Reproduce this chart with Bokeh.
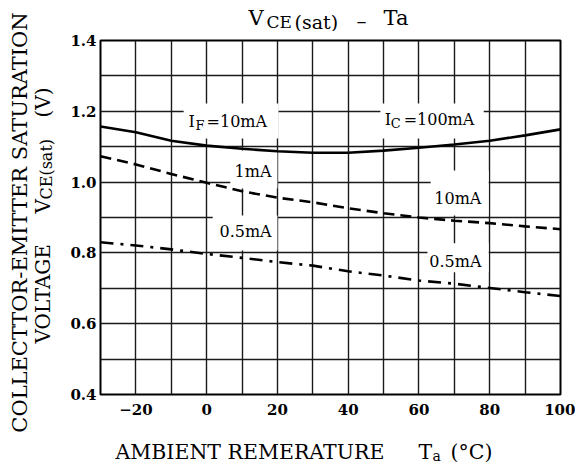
import math
from bokeh.plotting import figure
from bokeh.layouts import row, column
from bokeh.models import Label, BoxAnnotation, FixedTicker, Range1d
from bokeh.embed import file_html
from bokeh.resources import INLINE

# ---------------- data ----------------
temps = [-30, -20, -10, 0, 10, 20, 30, 40, 50, 60, 70, 80, 90, 100]
vce_ic100_if10 = [1.157, 1.141, 1.117, 1.103, 1.094, 1.087, 1.083, 1.083, 1.089, 1.097, 1.106, 1.117, 1.132, 1.149]
vce_ic10_if1 = [1.073, 1.050, 1.023, 0.998, 0.974, 0.956, 0.943, 0.926, 0.912, 0.900, 0.891, 0.884, 0.875, 0.867]
vce_ic05_if05 = [0.830, 0.821, 0.810, 0.797, 0.786, 0.774, 0.764, 0.748, 0.736, 0.722, 0.713, 0.701, 0.689, 0.678]

x_ticks = [-20, 0, 20, 40, 60, 80, 100]
x_tick_labels = ["\u221220", "0", "20", "40", "60", "80", "100"]
x_grid = [-20, -10, 0, 10, 20, 30, 40, 50, 60, 70, 80, 90]
y_ticks = [0.4, 0.6, 0.8, 1.0, 1.2, 1.4]
y_tick_labels = ["0.4", "0.6", "0.8", "1.0", "1.2", "1.4"]
y_grid = [0.5, 0.6, 0.7, 0.8, 0.9, 1.0, 1.1, 1.2, 1.3]

FONT = "DejaVu Serif"
BL, BR = 40, 15   # left / right borders shared by the stacked figures

# ---------------- main chart ----------------
p = figure(width=515, height=389, title=None,
           x_range=Range1d(-30, 100), y_range=Range1d(0.4, 1.4),
           output_backend="svg", toolbar_location=None,
           min_border_left=BL, min_border_right=BR,
           min_border_top=9, min_border_bottom=26)
p.background_fill_color = "white"
p.border_fill_color = "white"
p.outline_line_color = "black"
p.outline_line_width = 2
p.outline_line_alpha = 1

for ax in (p.xaxis, p.yaxis):
    ax.axis_line_color = None
    ax.major_tick_line_color = None
    ax.minor_tick_line_color = None
    ax.major_tick_out = 0
    ax.major_tick_in = 0
    ax.minor_tick_out = 0
    ax.major_label_text_font = FONT
    ax.major_label_text_font_size = "15px"
    ax.major_label_text_font_style = "bold"
    ax.major_label_text_color = "black"
p.xaxis.ticker = FixedTicker(ticks=x_ticks)
p.yaxis.ticker = FixedTicker(ticks=y_ticks)
p.xaxis.major_label_overrides = dict(zip(x_ticks, x_tick_labels))
p.yaxis.major_label_overrides = dict(zip(y_ticks, y_tick_labels))
p.xaxis.major_label_standoff = 9
p.yaxis.major_label_standoff = 4

p.xgrid.ticker = FixedTicker(ticks=x_grid)
p.ygrid.ticker = FixedTicker(ticks=y_grid)
for g in (p.xgrid, p.ygrid):
    g.grid_line_color = "#1a1a1a"
    g.grid_line_width = 1.4
    g.grid_line_alpha = 1

# white boxes behind the curve labels
boxes = [(-6.5, 20.3, 1.123, 1.222), (49.1, 78.3, 1.123, 1.222),
         (6.7, 20.0, 0.982, 1.089), (63.3, 79.7, 0.906, 1.033),
         (1.7, 20.0, 0.807, 0.906), (62.4, 79.7, 0.745, 0.827)]
for l, r, b, t in boxes:
    p.add_layout(BoxAnnotation(left=l, right=r, bottom=b, top=t,
                               fill_color="white", fill_alpha=1,
                               line_alpha=0, level="underlay"))

p.line(temps, vce_ic100_if10, line_color="black", line_width=2.6)
p.line(temps, vce_ic10_if1, line_color="black", line_width=2.6, line_dash="11 6")
p.line(temps, vce_ic05_if05, line_color="black", line_width=2.6, line_dash="13 7 3 7")


def lab(fig, x, y, text, size, xo=0, yo=0, angle=0.0, align="left"):
    fig.add_layout(Label(x=x, y=y, text=text,
                         text_font=FONT, text_font_size=f"{size}px",
                         x_offset=xo, y_offset=yo, angle=angle,
                         text_align=align, text_baseline="middle",
                         text_color="black"))


lab(p, -5.1, 1.171, "I", 16)
lab(p, -5.1, 1.171, "F", 13, xo=7, yo=-4)
lab(p, -5.1, 1.171, "=10mA", 16, xo=18)
lab(p, 50.3, 1.177, "I", 16)
lab(p, 50.3, 1.177, "C", 13, xo=6, yo=-4)
lab(p, 50.3, 1.177, "=100mA", 16, xo=19)
lab(p, 13.1, 1.030, "1mA", 16, align="center")
lab(p, 71.0, 0.955, "10mA", 16, align="center")
lab(p, 11.0, 0.860, "0.5mA", 16, align="center")
lab(p, 70.3, 0.776, "0.5mA", 16, align="center")


def text_fig(w, h, x0, x1, y0, y1, bl=0, br=0):
    f = figure(width=w, height=h, title=None, output_backend="svg",
               toolbar_location=None, x_axis_type=None, y_axis_type=None,
               x_range=Range1d(x0, x1), y_range=Range1d(y1, y0),
               min_border=0, min_border_left=bl, min_border_right=br)
    f.outline_line_color = None
    f.background_fill_color = "white"
    f.border_fill_color = "white"
    f.grid.visible = False
    return f


# title strip (page coordinates, y downward; frame spans page x 100..560)
tfig = text_fig(515, 31, 100, 560, 0, 31, BL, BR)
lab(tfig, 248, 17.5, "V", 21)
lab(tfig, 266, 21.5, "CE", 17)
lab(tfig, 294, 21, "(sat)", 19)
lab(tfig, 356, 20, "\u2013", 20)
lab(tfig, 383, 17.5, "Ta", 21)

# x-axis title strip
xfig = text_fig(515, 43, 100, 560, 420, 463, BL, BR)
lab(xfig, 115, 451, "AMBIENT REMERATURE", 20.5)
lab(xfig, 418, 451, "T", 20.5)
lab(xfig, 432, 455, "a", 14)
lab(xfig, 450, 451, "(\u00b0C)", 20.5)

# y-axis title strip (rotated)
yfig = text_fig(60, 463, 0, 60, 0, 463)
A = math.pi / 2
lab(yfig, 19, 222, "COLLECTTOR-EMITTER SATURATION", 21, angle=A, align="center")
lab(yfig, 42, 343, "VOLTAGE", 20, angle=A)
lab(yfig, 42, 213, "V", 20, angle=A)
lab(yfig, 46, 199, "CE(sat)", 16, angle=A)
lab(yfig, 42, 117, "(V)", 20, angle=A)

layout = row(yfig, column(tfig, p, xfig, spacing=0), spacing=0)

open("out.html", "w").write(file_html(layout, INLINE))
